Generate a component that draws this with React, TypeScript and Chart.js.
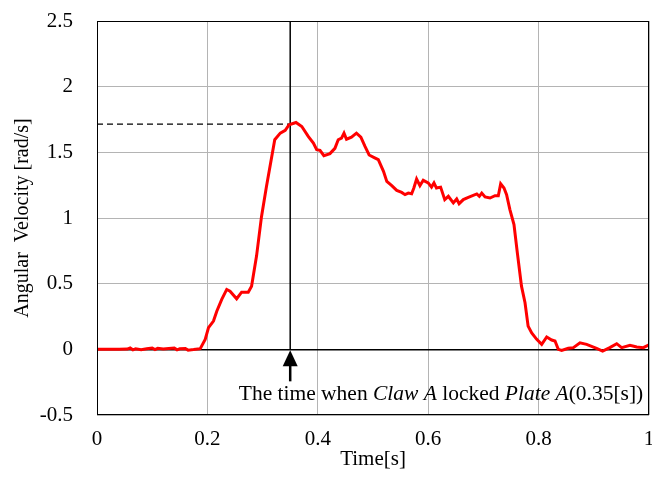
import React, { useEffect, useRef } from "react";
import { Chart, registerables } from "chart.js";

Chart.register(...registerables);

const timeValues = [
  0, 0.02, 0.04, 0.055, 0.06, 0.065, 0.07, 0.08, 0.09, 0.1, 0.105, 0.11, 0.12, 0.13, 0.14, 0.145, 0.15, 0.16, 0.165, 0.175,
  0.187, 0.196, 0.202, 0.211, 0.217, 0.226, 0.235, 0.241, 0.253, 0.262, 0.274, 0.28, 0.289, 0.298, 0.307, 0.322, 0.332, 0.341,
  0.348, 0.3605, 0.371, 0.383, 0.392, 0.398, 0.404, 0.411, 0.422, 0.431, 0.437, 0.443, 0.4475, 0.452, 0.461, 0.47, 0.478,
  0.4855, 0.493, 0.504, 0.5096, 0.519, 0.525, 0.534, 0.543, 0.552, 0.558, 0.564, 0.57, 0.574, 0.579, 0.585, 0.591, 0.6, 0.606,
  0.6105, 0.615, 0.6225, 0.63, 0.6365, 0.6455, 0.6516, 0.656, 0.6636, 0.6727, 0.688, 0.6926, 0.697, 0.703, 0.712, 0.721, 0.727,
  0.7313, 0.7373, 0.742, 0.748, 0.7554, 0.7615, 0.769, 0.7754, 0.781, 0.7875, 0.7966, 0.8056, 0.8147, 0.8237, 0.8297, 0.8357,
  0.8418, 0.8538, 0.863, 0.875, 0.887, 0.905, 0.916, 0.929, 0.9415, 0.9505, 0.9656, 0.9777, 0.9897, 1.0,
];

const angularVelocity = [
  0, 0, 0, 0.002, 0.01, -0.004, 0.004, -0.003, 0.005, 0.01, -0.002, 0.008, 0.002, 0.006, 0.01, -0.004, 0.004, 0.006, -0.006, -0.002,
  0.005, 0.076, 0.165, 0.215, 0.29, 0.38, 0.456, 0.443, 0.385, 0.435, 0.435, 0.48, 0.71, 1.01, 1.24, 1.596, 1.646, 1.667,
  1.71, 1.727, 1.697, 1.62, 1.57, 1.52, 1.515, 1.474, 1.49, 1.53, 1.596, 1.608, 1.646, 1.6, 1.616, 1.646, 1.616,
  1.545, 1.48, 1.456, 1.444, 1.355, 1.279, 1.246, 1.21, 1.195, 1.178, 1.19, 1.185, 1.228, 1.297, 1.246, 1.287, 1.267, 1.235,
  1.267, 1.228, 1.235, 1.14, 1.165, 1.115, 1.145, 1.109, 1.14, 1.157, 1.183, 1.165, 1.19, 1.16, 1.152, 1.17, 1.17,
  1.26, 1.228, 1.178, 1.064, 0.95, 0.735, 0.481, 0.355, 0.177, 0.124, 0.076, 0.038, 0.094, 0.071, 0.063, 0,
  -0.008, 0.008, 0.013, 0.05, 0.038, 0.008, -0.013, 0.013, 0.043, 0.013, 0.03, 0.018, 0.013, 0.035,
];

const xTickValues = [0, 0.2, 0.4, 0.6, 0.8, 1];
const yTickValues = [-0.5, 0, 0.5, 1, 1.5, 2, 2.5];

const xAxisTitle = "Time[s]";
const yAxisTitle = "Angular  Velocity [rad/s]";

const lockTime = 0.35;
const lockVelocity = 1.715;
const annotationParts = [
  { text: "The time when ", italic: false },
  { text: "Claw A", italic: true },
  { text: " locked ", italic: false },
  { text: "Plate A", italic: true },
  { text: "(0.35[s])", italic: false },
];

const FONT = '"Liberation Serif", "Times New Roman", serif';

const annotationPlugin = {
  id: "lockAnnotation",
  beforeDatasetsDraw(chart: any) {
    const { ctx, chartArea, scales } = chart;
    const xs = scales.x;
    const ys = scales.y;
    const lx = xs.getPixelForValue(lockTime);
    const y0 = ys.getPixelForValue(0);
    const yv = ys.getPixelForValue(lockVelocity);
    ctx.save();
    ctx.strokeStyle = "#000";
    ctx.lineWidth = 1.3;
    ctx.setLineDash([6, 4]);
    ctx.beginPath();
    ctx.moveTo(chartArea.left, yv);
    ctx.lineTo(lx, yv);
    ctx.stroke();
    ctx.setLineDash([]);
    ctx.lineWidth = 1.5;
    ctx.beginPath();
    ctx.moveTo(lx, chartArea.top);
    ctx.lineTo(lx, y0);
    ctx.stroke();
    ctx.restore();
  },
  afterDraw(chart: any) {
    const { ctx, chartArea, scales } = chart;
    const xs = scales.x;
    const ys = scales.y;
    const lx = xs.getPixelForValue(lockTime);
    const y0 = ys.getPixelForValue(0);
    ctx.save();
    ctx.strokeStyle = "#000";
    ctx.lineWidth = 1;
    ctx.strokeRect(
      Math.round(chartArea.left) + 0.5,
      Math.round(chartArea.top) + 0.5,
      Math.round(chartArea.right - chartArea.left) - 1,
      Math.round(chartArea.bottom - chartArea.top) - 1
    );
    ctx.fillStyle = "#000";
    ctx.beginPath();
    ctx.moveTo(lx, y0 + 1);
    ctx.lineTo(lx - 7.5, y0 + 17);
    ctx.lineTo(lx + 7.5, y0 + 17);
    ctx.closePath();
    ctx.fill();
    ctx.fillRect(lx - 1.25, y0 + 16, 2.5, 16);
    ctx.textBaseline = "alphabetic";
    ctx.textAlign = "left";
    let total = 0;
    for (const p of annotationParts) {
      ctx.font = (p.italic ? "italic " : "") + "20px " + FONT;
      total += ctx.measureText(p.text).width;
    }
    const stretch = 1.074;
    const center = chartArea.right - 208;
    const ty = chartArea.bottom - 15;
    ctx.translate(center - (total * stretch) / 2, ty);
    ctx.scale(stretch, 1);
    let x = 0;
    for (const p of annotationParts) {
      ctx.font = (p.italic ? "italic " : "") + "20px " + FONT;
      ctx.fillText(p.text, x, 0);
      x += ctx.measureText(p.text).width;
    }
    ctx.restore();
  },
};

export default function App() {
  const canvasRef = useRef<HTMLCanvasElement | null>(null);

  useEffect(() => {
    if (!canvasRef.current) return;
    const points = timeValues.map((t, i) => ({ x: t, y: angularVelocity[i] }));
    const chart = new Chart(canvasRef.current, {
      type: "line",
      data: {
        datasets: [
          {
            data: points,
            borderColor: "#ff0000",
            borderWidth: 3,
            pointRadius: 0,
            tension: 0,
            fill: false,
          },
        ],
      },
      options: {
        animation: false,
        responsive: false,
        layout: { padding: { top: 21, right: 3, left: 0, bottom: 0 } },
        plugins: { legend: { display: false }, tooltip: { enabled: false } },
        scales: {
          x: {
            type: "linear",
            min: 0,
            max: 1,
            afterBuildTicks: (scale: any) => {
              scale.ticks = xTickValues.map((v) => ({ value: v }));
            },
            afterFit: (scale: any) => {
              scale.height = 72;
              scale.paddingLeft = 0;
              scale.paddingRight = 0;
            },
            ticks: {
              padding: 12,
              color: "#000",
              font: { family: FONT, size: 21 },
              maxRotation: 0,
              autoSkip: false,
              callback: (v: any) => String(Number(Number(v).toFixed(1))),
            },
            grid: { color: "#b4b4b4", lineWidth: 1, drawTicks: false },
            border: { display: false },
            title: {
              display: true,
              text: xAxisTitle,
              color: "#000",
              font: { family: FONT, size: 21 },
              padding: { top: 0, bottom: 15 },
            },
          },
          y: {
            type: "linear",
            min: -0.5,
            max: 2.5,
            afterBuildTicks: (scale: any) => {
              scale.ticks = yTickValues.map((v) => ({ value: v }));
            },
            afterFit: (scale: any) => {
              scale.width = 97;
              scale.paddingTop = 0;
              scale.paddingBottom = 0;
            },
            ticks: {
              padding: 24,
              color: "#000",
              font: { family: FONT, size: 21 },
              autoSkip: false,
              callback: (v: any) => String(Number(Number(v).toFixed(1))),
            },
            grid: {
              color: (c: any) => (c.tick && c.tick.value === 0 ? "#000" : "#b4b4b4"),
              lineWidth: (c: any) => (c.tick && c.tick.value === 0 ? 1.6 : 1),
              drawTicks: false,
            },
            border: { display: false },
            title: {
              display: true,
              text: yAxisTitle,
              color: "#000",
              font: { family: FONT, size: 20 },
              padding: { top: 11, bottom: 0 },
            },
          },
        },
      },
      plugins: [annotationPlugin],
    });
    return () => chart.destroy();
  }, []);

  return (
    <div style={{ position: "absolute", left: 0, top: 0, width: 652, height: 487, background: "#fff" }}>
      <canvas ref={canvasRef} width={652} height={487} />
    </div>
  );
}
